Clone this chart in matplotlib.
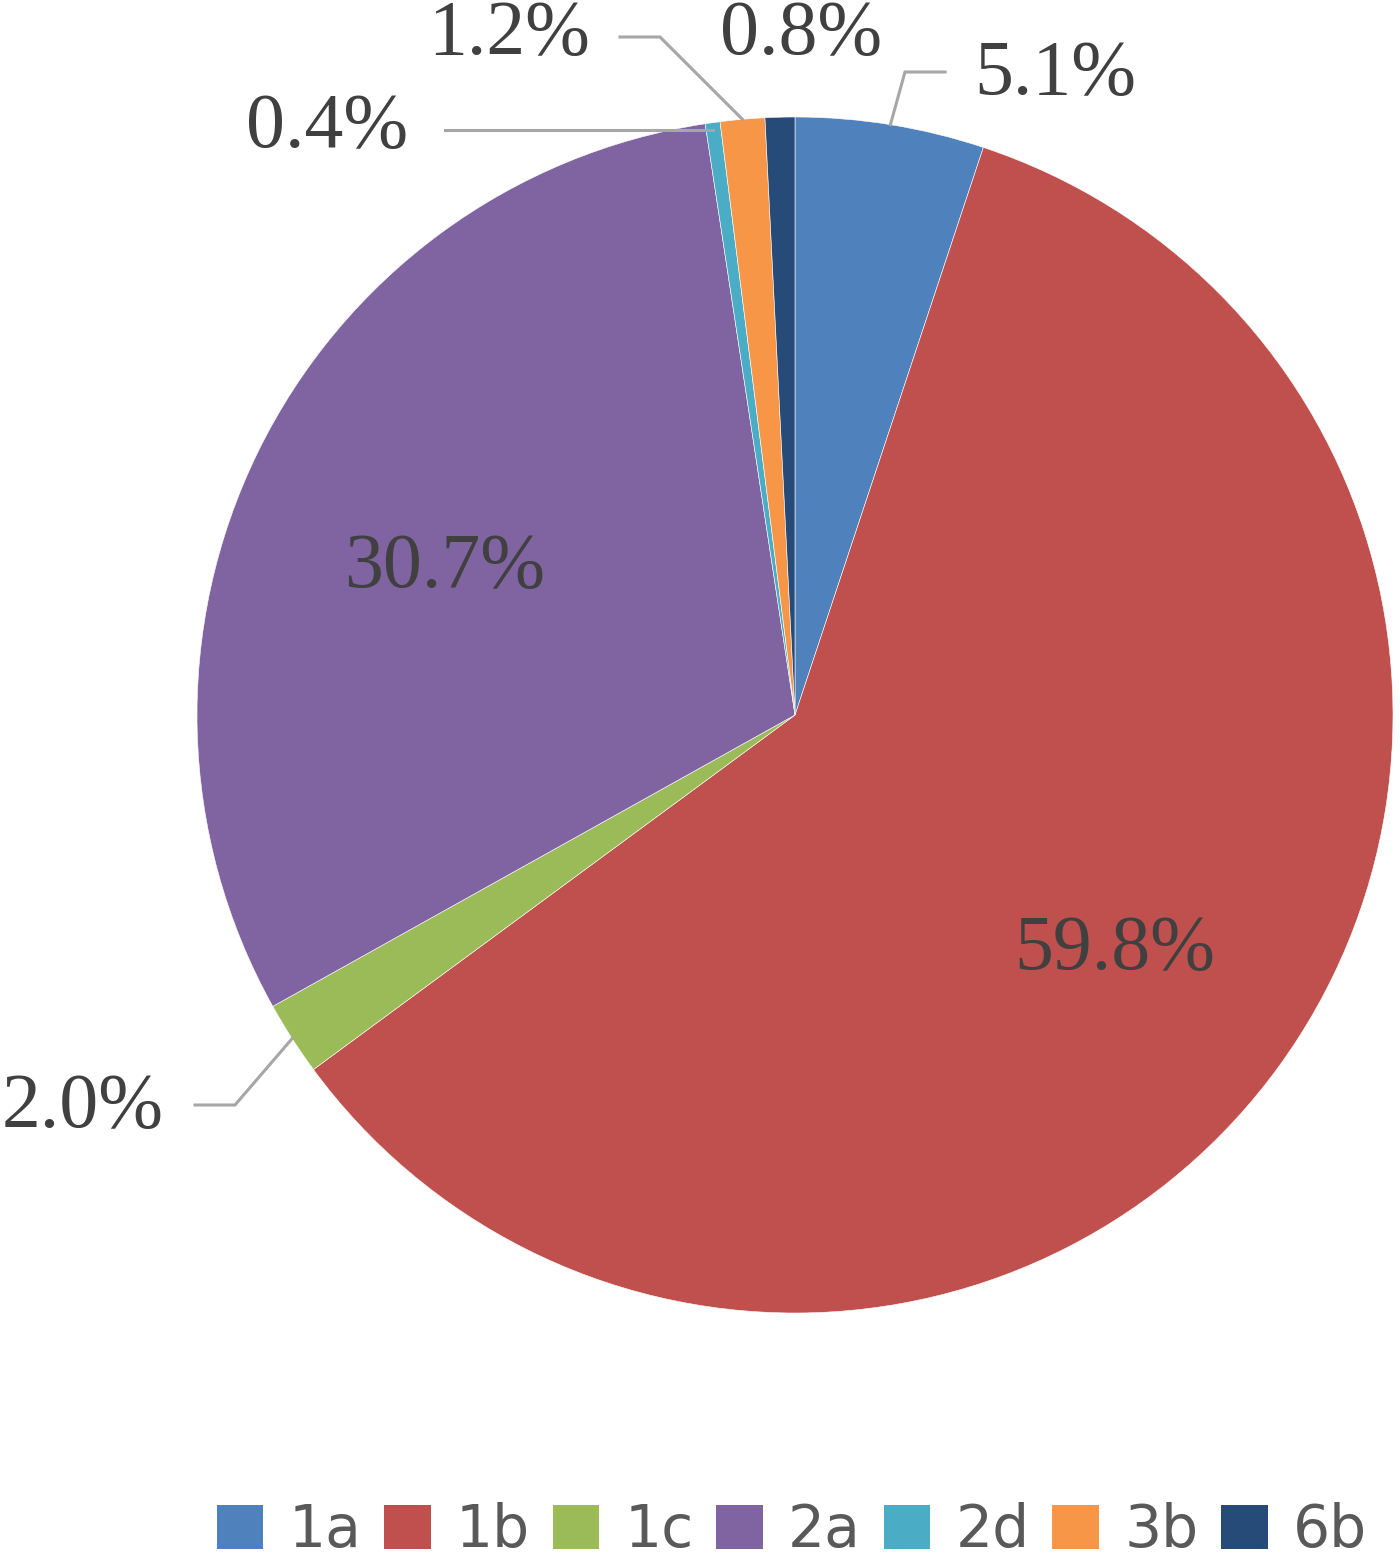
import numpy as np
import matplotlib.pyplot as plt
from matplotlib.patches import Patch

# Données
categories = ['1a', '1b', '1c', '2a', '2d', '3b', '6b']
values = [5.1, 59.8, 2.0, 30.7, 0.4, 1.2, 0.8]
labels = ['5.1%', '59.8%', '2.0%', '30.7%', '0.4%', '1.2%', '0.8%']
colors = ['#4F81BD', '#C0504D', '#9BBB59', '#8064A2', '#4BACC6', '#F79646', '#264B78']

W, H = 1400, 1566
cx, cy, R = 795, H - 715, 598

fig = plt.figure(figsize=(W / 100, H / 100), dpi=100)
ax = fig.add_axes([0, 0, 1, 1])
wedges, _ = ax.pie(values, colors=colors, startangle=90, counterclock=False,
                   center=(cx, cy), radius=R,
                   wedgeprops=dict(edgecolor='white', linewidth=0.4))
ax.set_xlim(0, W)
ax.set_ylim(0, H)
ax.set_aspect('equal')
ax.axis('off')

txt = dict(family='Liberation Serif', fontsize=56, color='#404040',
           ha='center', va='center')
line = dict(color='#A6A6A6', lw=2.2, solid_joinstyle='miter')


def edge_point(i, r=1.0):
    w = wedges[i]
    a = np.deg2rad((w.theta1 + w.theta2) / 2)
    return cx + r * R * np.cos(a), cy + r * R * np.sin(a)


# étiquettes intérieures
for i, (px, py) in [(1, (1115, H - 950)), (3, (445, H - 568))]:
    ax.text(px, py, labels[i], **txt)

# étiquettes extérieures avec lignes de rappel
x0, y0 = edge_point(0)
ax.plot([x0, 905, 945], [y0, H - 72, H - 72], **line)
ax.text(1055, H - 75, labels[0], **txt)

x0, y0 = edge_point(2)
ax.plot([x0, 235, 195], [y0, H - 1105, H - 1105], **line)
ax.text(83, H - 1108, labels[2], **txt)

x0, y0 = edge_point(4)
ax.plot([x0, 445], [H - 130, H - 130], **line)
ax.text(327, H - 128, labels[4], **txt)

x0, y0 = edge_point(5)
ax.plot([x0, 660, 620], [y0, H - 37, H - 37], **line)
ax.text(509, H - 35, labels[5], **txt)

ax.text(801, H - 35, labels[6], **txt)

# Légende
handles = [Patch(facecolor=c, edgecolor='none') for c in colors]
fig.legend(handles, categories, loc='center', bbox_to_anchor=(0.5656, 35 / H),
           ncol=7, frameon=False, prop=dict(family='DejaVu Sans', size=42),
           labelcolor='#595959', handlelength=0.8, handleheight=0.77,
           handletextpad=0.43, columnspacing=0.39, borderaxespad=0,
           borderpad=0)

fig.savefig('out.png', dpi=100)
